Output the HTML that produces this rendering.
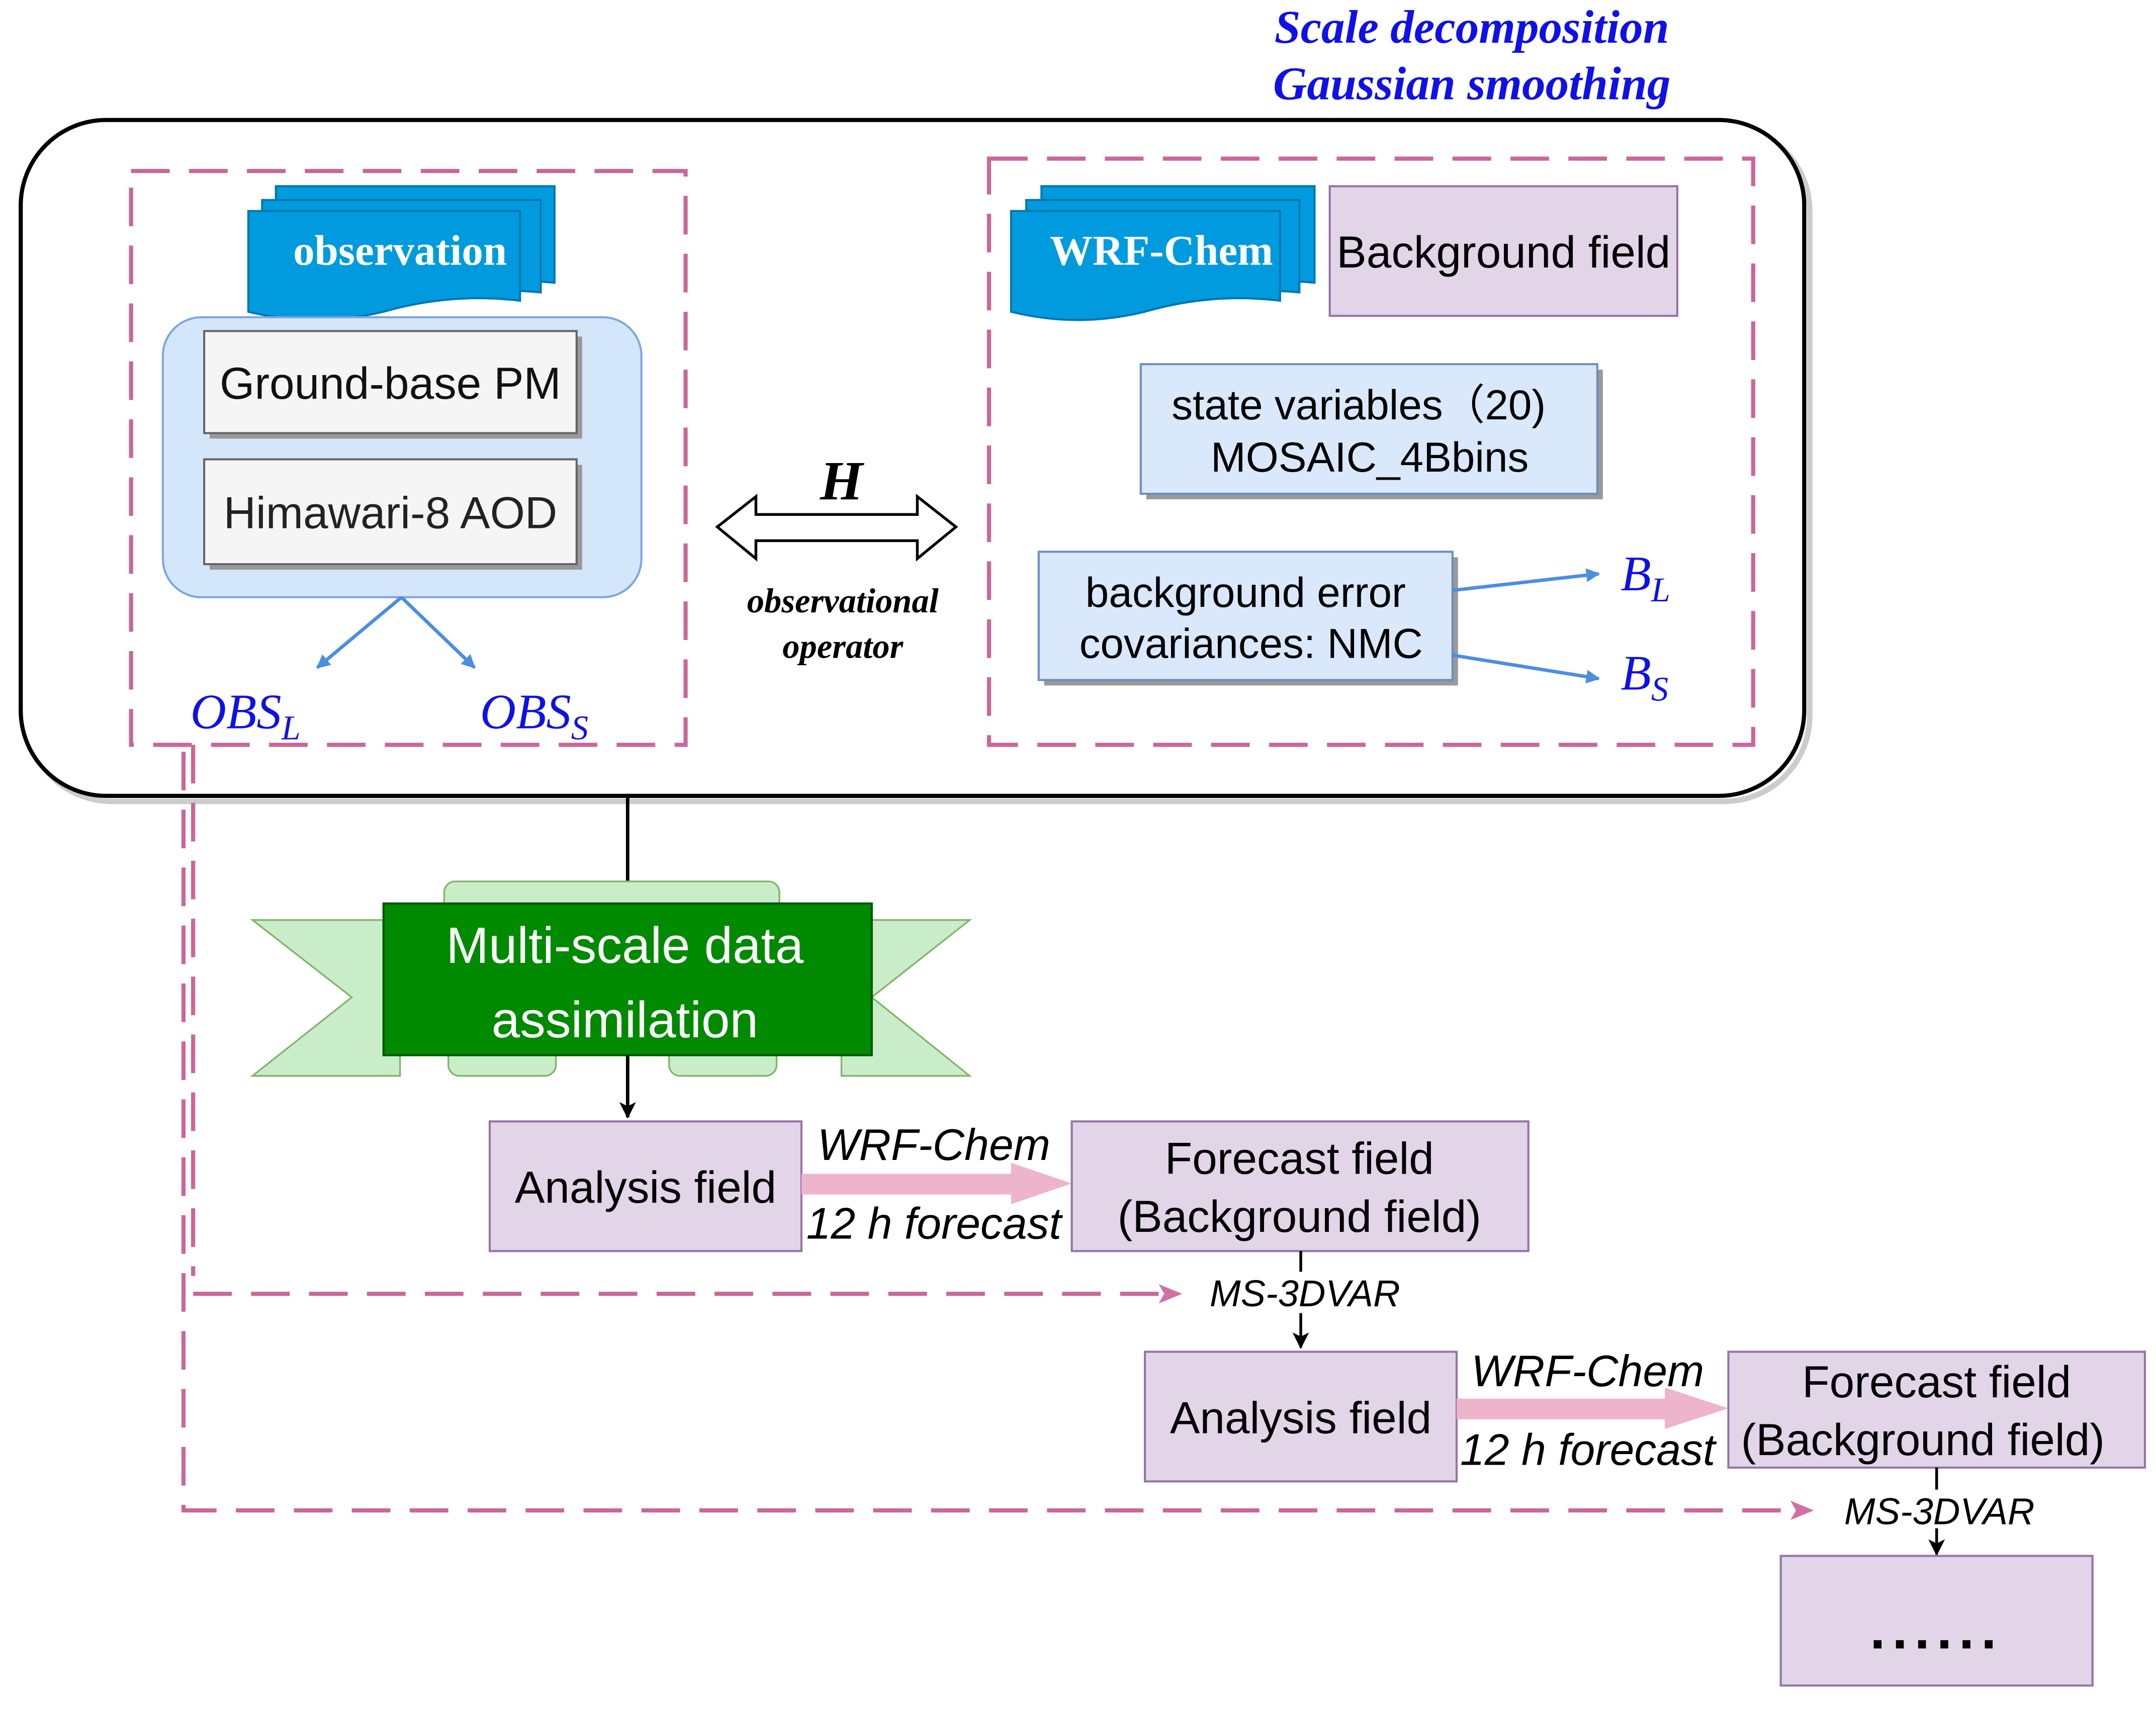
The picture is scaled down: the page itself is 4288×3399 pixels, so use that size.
<!DOCTYPE html>
<html><head><meta charset="utf-8"><style>
html,body{margin:0;padding:0;background:#fff;}
svg{display:block;}
.s{font-family:"Liberation Sans",sans-serif;}
.r{font-family:"Liberation Serif",serif;}
</style></head><body>
<svg width="4288" height="3399" viewBox="0 0 1563 1239" xmlns="http://www.w3.org/2000/svg">
<defs>
<marker id="ab" markerWidth="10" markerHeight="10" refX="9" refY="5" orient="auto" markerUnits="userSpaceOnUse"><path d="M0,0 L10,5 L0,10 Z" fill="#4a8fe0"/></marker>
<marker id="ak" markerWidth="12" markerHeight="12" refX="11" refY="6" orient="auto" markerUnits="userSpaceOnUse"><path d="M0,0 L12,6 L0,12 L3,6 Z" fill="#000"/></marker>
</defs>
<rect width="1563" height="1239" fill="#fff"/>
<text x="1067" y="31" text-anchor="middle" class="r" font-size="34" font-style="italic" font-weight="bold" fill="#1010e8">Scale decomposition</text>
<text x="1067" y="72" text-anchor="middle" class="r" font-size="34" font-style="italic" font-weight="bold" fill="#1010e8">Gaussian smoothing</text>
<rect x="19" y="91" width="1293" height="490" rx="62" fill="none" stroke="#ccc" stroke-width="4"/>
<rect x="15" y="87" width="1293" height="490" rx="62" fill="#fff" stroke="#000" stroke-width="3"/>
<g fill="none" stroke="#c9679a" stroke-width="3" stroke-dasharray="28,14">
<rect x="95" y="124" width="402" height="416"/>
<rect x="717" y="115" width="554" height="425"/>
<path d="M140 540 V925 M133 545 V1095 H1300 M140 938 H840"/>
</g>
<path d="M1298 1088 L1315 1095 L1298 1102 L1302 1095Z" fill="#d36fa4"/>
<path d="M840 931 L857 938 L840 945 L844 938Z" fill="#d36fa4"/>
<g fill="#009bde" stroke="#0077b0" stroke-width="1.5">
<path d="M200 135 H402 V205 Q350 200 300 215 Q250 228 200 215 Z"/>
<path d="M190 145 H392 V212 Q340 207 290 222 Q240 235 190 222 Z"/>
<path d="M180 153 H377 V218 Q327 212 278 226 Q229 238 180 226 Z"/>
</g>
<text x="290" y="192" text-anchor="middle" class="r" font-size="31" font-weight="bold" fill="#fff">observation</text>
<rect x="118" y="230" width="347" height="203" rx="28" fill="#d4e6f9" stroke="#7ea6e0" stroke-width="1.5"/>
<rect x="152" y="244" width="270" height="74" fill="#999"/>
<rect x="148" y="240" width="270" height="74" fill="#f5f5f5" stroke="#666" stroke-width="1.5"/>
<text x="283" y="289" text-anchor="middle" class="s" font-size="32.5" fill="#111">Ground-base PM</text>
<rect x="152" y="337" width="270" height="76" fill="#999"/>
<rect x="148" y="333" width="270" height="76" fill="#f5f5f5" stroke="#666" stroke-width="1.5"/>
<text x="283" y="383" text-anchor="middle" class="s" font-size="32.5" fill="#222">Himawari-8 AOD</text>
<path d="M291 433 L230 484" stroke="#4a8fe0" stroke-width="2.5" fill="none" marker-end="url(#ab)"/>
<path d="M291 433 L344 484" stroke="#4a8fe0" stroke-width="2.5" fill="none" marker-end="url(#ab)"/>
<text x="138" y="528" class="r" font-size="36" font-style="italic" fill="#1010e8">OBS<tspan font-size="25" dy="8">L</tspan></text>
<text x="348" y="528" class="r" font-size="36" font-style="italic" fill="#1010e8">OBS<tspan font-size="25" dy="8">S</tspan></text>
<path d="M520 382 L548 360 V373 H665 V360 L693 382 L665 405 V392 H548 V405 Z" fill="#fff" stroke="#000" stroke-width="2"/>
<text x="610" y="362" text-anchor="middle" class="r" font-size="40" font-style="italic" font-weight="bold">H</text>
<text x="611" y="444" text-anchor="middle" class="r" font-size="25" font-style="italic" font-weight="bold">observational</text>
<text x="611" y="477" text-anchor="middle" class="r" font-size="25" font-style="italic" font-weight="bold">operator</text>
<g fill="#009bde" stroke="#0077b0" stroke-width="1.5">
<path d="M755 135 H953 V205 Q903 200 853 215 Q803 228 755 215 Z"/>
<path d="M744 145 H942 V212 Q892 207 842 222 Q792 235 744 222 Z"/>
<path d="M733 153 H928 V218 Q878 212 830 226 Q781 238 733 226 Z"/>
</g>
<text x="842" y="192" text-anchor="middle" class="r" font-size="31" font-weight="bold" fill="#fff">WRF-Chem</text>
<rect x="964" y="135" width="252" height="94" fill="#e1d5e7" stroke="#9673a6" stroke-width="1.5"/>
<text x="1090" y="194" text-anchor="middle" class="s" font-size="32.5">Background field</text>
<rect x="831" y="268" width="331" height="94" fill="#999"/>
<rect x="827" y="264" width="331" height="94" fill="#dae8fc" stroke="#6c8ebf" stroke-width="1.5"/>
<text x="985" y="304" text-anchor="middle" class="s" font-size="30.5">state variables（20)</text>
<text x="993" y="342" text-anchor="middle" class="s" font-size="30.5">MOSAIC_4Bbins</text>
<rect x="757" y="404" width="300" height="93" fill="#999"/>
<rect x="753" y="400" width="300" height="93" fill="#dae8fc" stroke="#6c8ebf" stroke-width="1.5"/>
<text x="903" y="440" text-anchor="middle" class="s" font-size="30.5">background error</text>
<text x="907" y="477" text-anchor="middle" class="s" font-size="30.5">covariances: NMC</text>
<path d="M1053 428 L1159 416" stroke="#4a8fe0" stroke-width="2.5" marker-end="url(#ab)"/>
<path d="M1053 475 L1159 492" stroke="#4a8fe0" stroke-width="2.5" marker-end="url(#ab)"/>
<text x="1175" y="428" class="r" font-size="36" font-style="italic" fill="#1010e8">B<tspan font-size="25" dy="8">L</tspan></text>
<text x="1175" y="500" class="r" font-size="36" font-style="italic" fill="#1010e8">B<tspan font-size="25" dy="8">S</tspan></text>
<path d="M455 577 V655" stroke="#000" stroke-width="2.5"/>
<g fill="#c9ecc9" stroke="#82b366" stroke-width="1.2">
<rect x="322" y="639" width="243" height="30" rx="8"/>
<path d="M183 667 H290 V780 H183 L255 723 Z"/>
<path d="M610 667 H703 L632 723 L703 780 H610 Z"/>
<rect x="325" y="755" width="78" height="25" rx="8"/>
<rect x="485" y="755" width="78" height="25" rx="8"/>
</g>
<rect x="278" y="655" width="354" height="110" fill="#008a00" stroke="#005700" stroke-width="1.5"/>
<text x="453" y="698" text-anchor="middle" class="s" font-size="37" fill="#fff">Multi-scale data</text>
<text x="453" y="752" text-anchor="middle" class="s" font-size="37" fill="#fff">assimilation</text>
<path d="M455 765 V810" stroke="#000" stroke-width="2.5" marker-end="url(#ak)"/>
<rect x="355" y="813" width="226" height="94" fill="#e1d5e7" stroke="#9673a6" stroke-width="1.5"/>
<text x="468" y="872" text-anchor="middle" class="s" font-size="32.5">Analysis field</text>
<path d="M581 851 H733 V843 L777 858 L733 873 V866 H581 Z" fill="#eeb4cc"/>
<text x="677" y="841" text-anchor="middle" class="s" font-size="32" font-style="italic">WRF-Chem</text>
<text x="677" y="898" text-anchor="middle" class="s" font-size="32" font-style="italic">12 h forecast</text>
<rect x="777" y="813" width="331" height="94" fill="#e1d5e7" stroke="#9673a6" stroke-width="1.5"/>
<text x="942" y="851" text-anchor="middle" class="s" font-size="32.5">Forecast field</text>
<text x="942" y="893" text-anchor="middle" class="s" font-size="32.5">(Background field)</text>
<path d="M943 907 V922" stroke="#000" stroke-width="2"/>
<path d="M943 952 V977" stroke="#000" stroke-width="2" marker-end="url(#ak)"/>
<text x="946" y="947" text-anchor="middle" class="s" font-size="27" font-style="italic">MS-3DVAR</text>
<rect x="830" y="980" width="226" height="94" fill="#e1d5e7" stroke="#9673a6" stroke-width="1.5"/>
<text x="943" y="1039" text-anchor="middle" class="s" font-size="32.5">Analysis field</text>
<path d="M1056 1014 H1207 V1006 L1253 1021 L1207 1036 V1029 H1056 Z" fill="#eeb4cc"/>
<text x="1151" y="1005" text-anchor="middle" class="s" font-size="32" font-style="italic">WRF-Chem</text>
<text x="1151" y="1062" text-anchor="middle" class="s" font-size="32" font-style="italic">12 h forecast</text>
<rect x="1253" y="980" width="302" height="84" fill="#e1d5e7" stroke="#9673a6" stroke-width="1.5"/>
<text x="1404" y="1013" text-anchor="middle" class="s" font-size="32.5">Forecast field</text>
<text x="1394" y="1055" text-anchor="middle" class="s" font-size="32.5">(Background field)</text>
<path d="M1404 1064 V1080" stroke="#000" stroke-width="2"/>
<path d="M1404 1108 V1127" stroke="#000" stroke-width="2" marker-end="url(#ak)"/>
<text x="1406" y="1105" text-anchor="middle" class="s" font-size="27" font-style="italic">MS-3DVAR</text>
<rect x="1291" y="1128" width="226" height="94" fill="#e1d5e7" stroke="#9673a6" stroke-width="1.5"/>
<text x="1404" y="1195" text-anchor="middle" class="s" font-size="40" font-weight="bold" letter-spacing="5">......</text>
</svg>
</body></html>
